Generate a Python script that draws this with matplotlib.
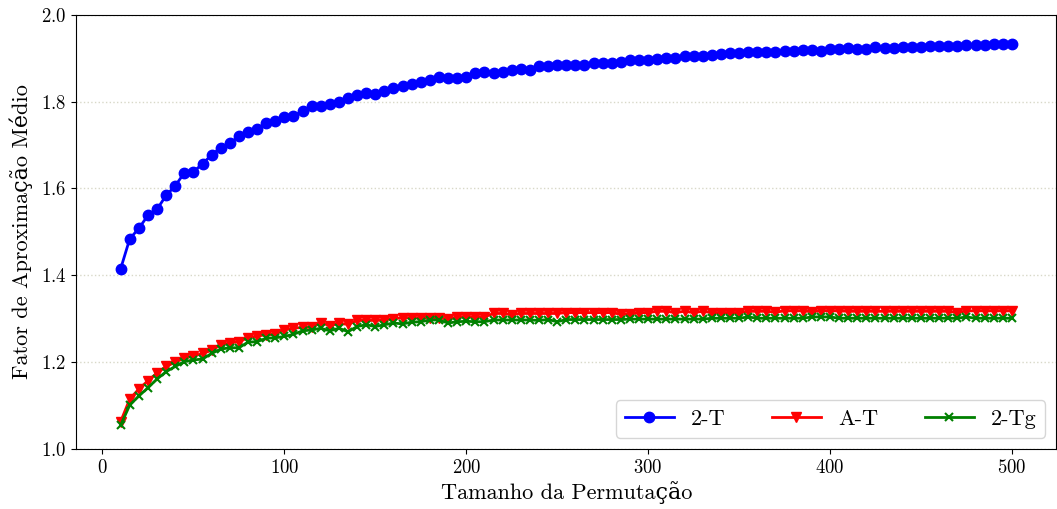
import matplotlib
matplotlib.use("Agg")
import matplotlib.pyplot as plt
import numpy as np

plt.rcParams["font.family"] = ["cmr10", "DejaVu Serif"]
plt.rcParams["mathtext.fontset"] = "cm"
plt.rcParams["axes.formatter.use_mathtext"] = True

# Permutation sizes 10, 15, ..., 500
sizes = list(range(10, 501, 5))

two_t = [
    1.415, 1.484, 1.508, 1.538, 1.552, 1.584, 1.606, 1.636, 1.638, 1.657,
    1.677, 1.694, 1.704, 1.720, 1.729, 1.738, 1.750, 1.755, 1.765, 1.766,
    1.779, 1.789, 1.790, 1.795, 1.798, 1.809, 1.816, 1.819, 1.817, 1.825,
    1.832, 1.837, 1.840, 1.844, 1.849, 1.856, 1.854, 1.854, 1.856, 1.866,
    1.868, 1.866, 1.869, 1.873, 1.876, 1.873, 1.881, 1.883, 1.885, 1.885,
    1.885, 1.885, 1.888, 1.890, 1.890, 1.892, 1.895, 1.896, 1.896, 1.897,
    1.901, 1.900, 1.904, 1.906, 1.906, 1.907, 1.910, 1.912, 1.912, 1.914,
    1.915, 1.914, 1.915, 1.916, 1.917, 1.918, 1.918, 1.917, 1.921, 1.921,
    1.923, 1.922, 1.921, 1.925, 1.924, 1.924, 1.925, 1.926, 1.926, 1.929,
    1.928, 1.929, 1.929, 1.930, 1.930, 1.930, 1.932, 1.932, 1.933,
]

a_t = [
    1.063, 1.115, 1.138, 1.157, 1.175, 1.190, 1.200, 1.209, 1.214, 1.220,
    1.227, 1.240, 1.244, 1.247, 1.256, 1.260, 1.263, 1.264, 1.275, 1.278,
    1.280, 1.280, 1.291, 1.284, 1.289, 1.287, 1.296, 1.296, 1.296, 1.297,
    1.300, 1.302, 1.302, 1.302, 1.302, 1.302, 1.299, 1.304, 1.304, 1.304,
    1.304, 1.312, 1.312, 1.309, 1.312, 1.312, 1.312, 1.312, 1.312, 1.314,
    1.314, 1.314, 1.314, 1.314, 1.314, 1.310, 1.310, 1.314, 1.314, 1.317,
    1.317, 1.314, 1.317, 1.314, 1.317, 1.314, 1.314, 1.314, 1.314, 1.317,
    1.317, 1.317, 1.315, 1.318, 1.318, 1.318, 1.316, 1.318, 1.318, 1.318,
    1.317, 1.317, 1.317, 1.317, 1.317, 1.317, 1.317, 1.317, 1.317, 1.317,
    1.317, 1.317, 1.314, 1.318, 1.318, 1.318, 1.318, 1.318, 1.318,
]

two_tg = [
    1.055, 1.101, 1.122, 1.141, 1.161, 1.178, 1.190, 1.201, 1.205, 1.207,
    1.220, 1.230, 1.233, 1.233, 1.246, 1.247, 1.255, 1.256, 1.259, 1.264,
    1.272, 1.274, 1.278, 1.272, 1.278, 1.270, 1.282, 1.286, 1.282, 1.286,
    1.290, 1.288, 1.292, 1.293, 1.297, 1.297, 1.290, 1.293, 1.294, 1.293,
    1.293, 1.297, 1.297, 1.297, 1.297, 1.297, 1.296, 1.298, 1.293, 1.298,
    1.298, 1.298, 1.298, 1.298, 1.298, 1.298, 1.299, 1.299, 1.299, 1.299,
    1.299, 1.299, 1.299, 1.299, 1.299, 1.301, 1.301, 1.301, 1.301, 1.304,
    1.301, 1.301, 1.301, 1.301, 1.301, 1.301, 1.304, 1.304, 1.304, 1.301,
    1.301, 1.301, 1.301, 1.301, 1.301, 1.301, 1.301, 1.301, 1.301, 1.301,
    1.301, 1.301, 1.301, 1.304, 1.301, 1.301, 1.301, 1.301, 1.301,
]

fig = plt.figure(figsize=(10.57, 5.09), dpi=100)
ax = fig.add_subplot(1, 1, 1)
fig.subplots_adjust(left=0.072, right=0.9995, top=0.971, bottom=0.118)

ax.plot(sizes, two_t, color="blue", marker="o", markersize=7.5, linewidth=2, label="2-T")
ax.plot(sizes, a_t, color="red", marker="v", markersize=7.5, linewidth=2, label="A-T")
ax.plot(sizes, two_tg, color="green", marker="x", markersize=6, markeredgewidth=1.5,
        linewidth=2, label="2-Tg")

ax.set_ylim(1.0, 2.0)
ax.set_xticks([0, 100, 200, 300, 400, 500])
ax.set_yticks([1.0, 1.2, 1.4, 1.6, 1.8, 2.0])
ax.yaxis.grid(True, linestyle=":", color="#d8d8c8", linewidth=1)
ax.set_axisbelow(True)
ax.tick_params(labelsize=13.5)

ax.set_xlabel("Tamanho da Permutação", fontsize=16, labelpad=3)
ax.set_ylabel("Fator de Aproximação Médio", fontsize=16, labelpad=6)
ax.legend(loc="lower right", ncol=3, fontsize=16, columnspacing=2.1,
          handlelength=2.2, handletextpad=0.77, borderaxespad=0.5)

plt.savefig("out.png")
